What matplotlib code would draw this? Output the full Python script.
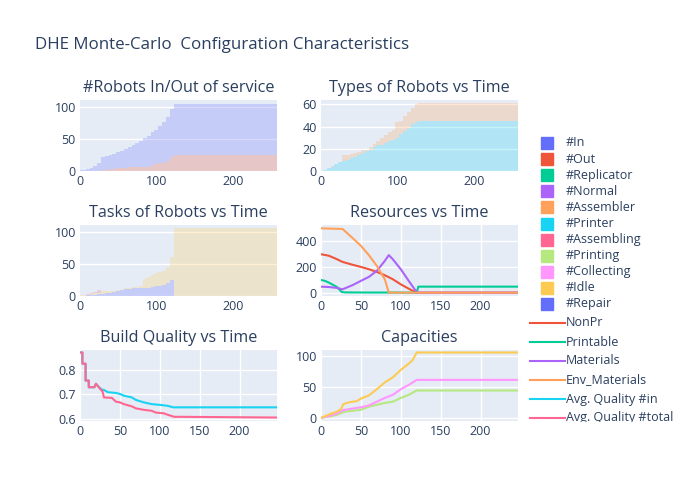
import numpy as np
import matplotlib.pyplot as plt
from matplotlib.patches import Rectangle
from matplotlib.lines import Line2D

plt.rcParams['font.family'] = ['Open Sans', 'DejaVu Sans']
TXT = '#2a3f5f'
BG = '#E5ECF6'

# bar data (stacked), one value every 5 time steps
t_bar = [0, 5, 10, 15, 20, 25, 30, 35, 40, 45, 50, 55, 60, 65, 70, 75, 80, 85, 90, 95,
         100, 105, 110, 115, 120, 125, 130, 135, 140, 145, 150, 155, 160, 165, 170, 175,
         180, 185, 190, 195, 200, 205, 210, 215, 220, 225, 230, 235, 240, 245, 250, 255]
n_out = [0, 0, 0, 0, 0, 0, 1, 2, 3, 3, 4, 5, 5, 6, 6, 6, 6, 6, 7, 10,
         11, 12, 13, 15, 22, 25, 25, 25, 25, 25, 25, 25, 25, 25, 25, 25,
         25, 25, 25, 25, 25, 25, 25, 25, 25, 25, 25, 25, 25, 25, 25, 25]
n_in = [1, 2, 3, 5, 8, 12, 21, 22, 22, 24, 25, 26, 29, 31, 34, 37, 41, 45, 48, 50,
        53, 58, 63, 69, 75, 80, 80, 80, 80, 80, 80, 80, 80, 80, 80, 80,
        80, 80, 80, 80, 80, 80, 80, 80, 80, 80, 80, 80, 80, 80, 80, 80]
n_printer = [0.3, 1, 3, 4, 6, 8, 9, 9.5, 12, 12.5, 14, 16, 18, 19, 21.5, 23, 23, 25, 27, 28,
             30, 33, 36, 39, 42, 44.5, 45, 45, 45, 45, 45, 45, 45, 45, 45, 45,
             45, 45, 45, 45, 45, 45, 45, 45, 45, 45, 45, 45, 45, 45, 45, 45]
n_assembler = [0, 0, 0, 0.5, 0, 0, 5, 5, 3.5, 3.5, 3, 2.5, 1, 2.5, 2.5, 4, 7, 7.5, 8, 9,
               14, 12.5, 14, 14, 15, 16, 16, 16, 16, 16, 16, 16, 16, 16, 16, 16,
               16, 16, 16, 16, 16, 16, 16, 16, 16, 16, 16, 16, 16, 16, 16, 16]
n_repair = [0, 0, 1, 2, 2, 3, 3, 4, 5, 6, 7, 9, 11, 11, 12, 12, 13, 13, 13, 14,
            15, 16, 17, 20, 25, 0, 0, 0, 0, 0, 0, 0, 0, 0, 0, 0,
            0, 0, 0, 0, 0, 0, 0, 0, 0, 0, 0, 0, 0, 0, 0, 0]
n_idle = [1, 1, 1, 1, 2, 2, 4, 3, 2.5, 2, 2, 1, 1, 1.5, 1.5, 1.5, 2, 14, 16.5, 18,
          20, 21, 22.5, 25, 35, 105, 105, 105, 105, 105, 105, 105, 105, 105, 105, 105,
          105, 105, 105, 105, 105, 105, 105, 105, 105, 105, 105, 105, 105, 105, 105, 105]
n_assembling = [0, 0.5, 0.5, 1, 2, 5, 1, 0, 0, 0, 0, 0, 0, 0, 0, 0, 0, 0, 0, 0,
                0, 0, 0, 0, 0, 0, 0, 0, 0, 0, 0, 0, 0, 0, 0, 0,
                0, 0, 0, 0, 0, 0, 0, 0, 0, 0, 0, 0, 0, 0, 0, 0]

# resources
t_nonpr = [0, 10, 20, 27, 40, 50, 60, 70, 80, 90, 100, 110, 118, 120, 246]
nonpr = [300, 288, 261, 240, 217, 201, 183, 162, 136, 105, 65, 31, 5, 0, 0]
t_printable = [0, 5, 10, 20, 26, 30, 60, 90, 118, 120, 122, 246]
printable = [99, 92, 78, 44, 5, 2, 1, 1, 0, 0, 47, 47]
t_materials = [0, 10, 20, 27, 40, 50, 60, 70, 80, 85, 90, 100, 110, 118, 120, 246]
materials = [47, 44, 37, 26, 60, 92, 123, 170, 248, 293, 261, 183, 92, 21, 0, 0]
t_env = [0, 27, 40, 50, 60, 70, 80, 85, 246]
env_materials = [502, 497, 424, 366, 293, 209, 105, 0, 0]

# build quality
t_q_in = [0, 3, 3, 7, 7, 11, 11, 18, 20, 22, 27, 30, 35, 45, 50, 55, 65, 70, 80, 90,
          100, 110, 117, 247]
q_in = [.869, .869, .824, .824, .756, .756, .729, .729, .743, .735, .72, .718, .709, .706,
        .702, .695, .688, .678, .668, .661, .658, .654, .648, .648]
t_q_tot = [0, 3, 3, 7, 7, 11, 11, 18, 20, 22, 27, 28, 30, 40, 45, 50, 55, 65, 70, 80,
           90, 95, 105, 110, 118, 247]
q_tot = [.869, .869, .824, .824, .756, .756, .729, .729, .743, .735, .716, .716, .688, .686,
         .671, .668, .661, .652, .644, .638, .634, .627, .624, .618, .610, .607]

# capacities
t_cap_y = [0, 10, 20, 25, 28, 35, 45, 50, 60, 70, 80, 90, 100, 110, 115, 120, 246]
cap_y = [0, 5.5, 10, 14, 22, 25, 27, 31, 36, 46, 57, 65, 77, 87, 93, 105, 105]
t_cap_p = [0, 10, 20, 28, 40, 50, 60, 70, 80, 90, 100, 110, 120, 246]
cap_p = [0, 3, 7, 12.6, 15, 17, 20, 26, 32, 37, 46, 53, 61, 61]
t_cap_g = [0, 10, 20, 30, 50, 60, 70, 80, 90, 100, 110, 120, 246]
cap_g = [0, 2, 5, 10, 13, 18, 21, 24, 26, 32, 37, 44, 44]

bar_names = ['#In', '#Out', '#Replicator', '#Normal', '#Assembler', '#Printer',
             '#Assembling', '#Printing', '#Collecting', '#Idle', '#Repair']
bar_colors = ['#636EFA', '#EF553B', '#00CC96', '#AB63FA', '#FFA15A', '#19D3F3',
              '#FF6692', '#B6E880', '#FF97FF', '#FECB52', '#636EFA']
line_names = ['NonPr', 'Printable', 'Materials', 'Env_Materials',
              'Avg. Quality #in', 'Avg. Quality #total']
line_colors = ['#EF553B', '#00CC96', '#AB63FA', '#FFA15A', '#19D3F3', '#FF6692']

fig = plt.figure(figsize=(7, 5), dpi=100)
W, H = 700, 500


def make_ax(x0, y0, x1, y1):
    ax = fig.add_axes([x0 / W, 1 - y1 / H, (x1 - x0) / W, (y1 - y0) / H])
    ax.set_facecolor(BG)
    for s in ax.spines.values():
        s.set_visible(False)
    ax.grid(True, color='white', linewidth=1)
    ax.set_axisbelow(True)
    ax.tick_params(length=0, labelsize=9, colors=TXT, pad=3)
    return ax


def title(ax, text):
    bb = ax.get_position()
    fig.text(bb.x0 + bb.width / 2, bb.y1 + 12 / H, text, ha='center', va='center',
             fontsize=11.6, color=TXT)


cols = [(80, 277), (321, 518)]
rows = [(100, 171), (225, 296), (350, 421)]

ax1 = make_ax(cols[0][0], rows[0][0], cols[0][1], rows[0][1])
ax2 = make_ax(cols[1][0], rows[0][0], cols[1][1], rows[0][1])
ax3 = make_ax(cols[0][0], rows[1][0], cols[0][1], rows[1][1])
ax4 = make_ax(cols[1][0], rows[1][0], cols[1][1], rows[1][1])
ax5 = make_ax(cols[0][0], rows[2][0], cols[0][1], rows[2][1])
ax6 = make_ax(cols[1][0], rows[2][0], cols[1][1], rows[2][1])

al = 0.25
bw = 5
ax1.bar(t_bar, n_out, width=bw, color='#EF553B', alpha=al, linewidth=0)
ax1.bar(t_bar, n_in, width=bw, bottom=n_out, color='#636EFA', alpha=al, linewidth=0)
ax1.set_ylim(0, 110.5)
ax1.set_yticks([0, 50, 100])

ax2.bar(t_bar, n_printer, width=bw, color='#19D3F3', alpha=al, linewidth=0)
ax2.bar(t_bar, n_assembler, width=bw, bottom=n_printer, color='#FFA15A', alpha=al,
        linewidth=0)
ax2.set_ylim(0, 64)
ax2.set_yticks([0, 20, 40, 60])

base = np.array(n_repair, dtype=float)
ax3.bar(t_bar, n_repair, width=bw, color='#636EFA', alpha=al, linewidth=0)
ax3.bar(t_bar, n_idle, width=bw, bottom=base, color='#FECB52', alpha=al, linewidth=0)
base = base + np.array(n_idle)
ax3.bar(t_bar, n_assembling, width=bw, bottom=base, color='#FF6692', alpha=al, linewidth=0)
ax3.set_ylim(0, 110.4)
ax3.set_yticks([0, 50, 100])

for ax in (ax1, ax2, ax3):
    ax.set_xlim(0, 258)
    ax.set_xticks([0, 100, 200])
    ax.grid(False, axis='x')

lw = 1.5
ax4.plot(t_nonpr, nonpr, color='#EF553B', lw=lw)
ax4.plot(t_printable, printable, color='#00CC96', lw=lw)
ax4.plot(t_materials, materials, color='#AB63FA', lw=lw)
ax4.plot(t_env, env_materials, color='#FFA15A', lw=lw)
ax4.set_ylim(-26, 528)
ax4.set_yticks([0, 200, 400])

ax5.plot(t_q_in, q_in, color='#19D3F3', lw=lw)
ax5.plot(t_q_tot, q_tot, color='#FF6692', lw=lw)
ax5.set_ylim(0.593, 0.879)
ax5.set_yticks([0.6, 0.7, 0.8])
ax5.set_yticklabels(['0.6', '0.7', '0.8'])

ax6.plot(t_cap_g, cap_g, color='#B6E880', lw=lw)
ax6.plot(t_cap_p, cap_p, color='#FF97FF', lw=lw)
ax6.plot(t_cap_y, cap_y, color='#FECB52', lw=lw)
ax6.set_ylim(-5, 109)
ax6.set_yticks([0, 50, 100])

for ax in (ax4, ax5, ax6):
    ax.set_xlim(0, 247)
    ax.set_xticks([0, 50, 100, 150, 200])

title(ax1, '#Robots In/Out of service')
title(ax2, 'Types of Robots vs Time')
title(ax3, 'Tasks of Robots vs Time')
title(ax4, 'Resources vs Time')
title(ax5, 'Build Quality vs Time')
title(ax6, 'Capacities')

fig.text(35 / W, 1 - 45 / H, 'DHE Monte-Carlo  Configuration Characteristics',
         ha='left', va='center', fontsize=12.2, color=TXT)

# legend (plotly style, cut off at the bottom)
for i, (name, c) in enumerate(zip(bar_names, bar_colors)):
    y = 143 + 16.1 * i
    fig.patches.append(Rectangle((541 / W, 1 - (y + 6) / H), 12 / W, 12 / H,
                                 transform=fig.transFigure, color=c, figure=fig))
    fig.text(566 / W, 1 - y / H, name, ha='left', va='center', fontsize=9, color=TXT)
for j, (name, c) in enumerate(zip(line_names, line_colors)):
    y = 323 + 19 * j
    fig.lines.append(Line2D([530 / W, 565 / W], [1 - y / H, 1 - y / H], color=c, lw=1.5,
                            transform=fig.transFigure, figure=fig))
    fig.text(566 / W, 1 - y / H, name, ha='left', va='center', fontsize=9, color=TXT)
fig.patches.append(Rectangle((525 / W, 0), 175 / W, (500 - 421.5) / H, color='white',
                             transform=fig.transFigure, figure=fig, zorder=10))

fig.savefig('out.png', dpi=100)
